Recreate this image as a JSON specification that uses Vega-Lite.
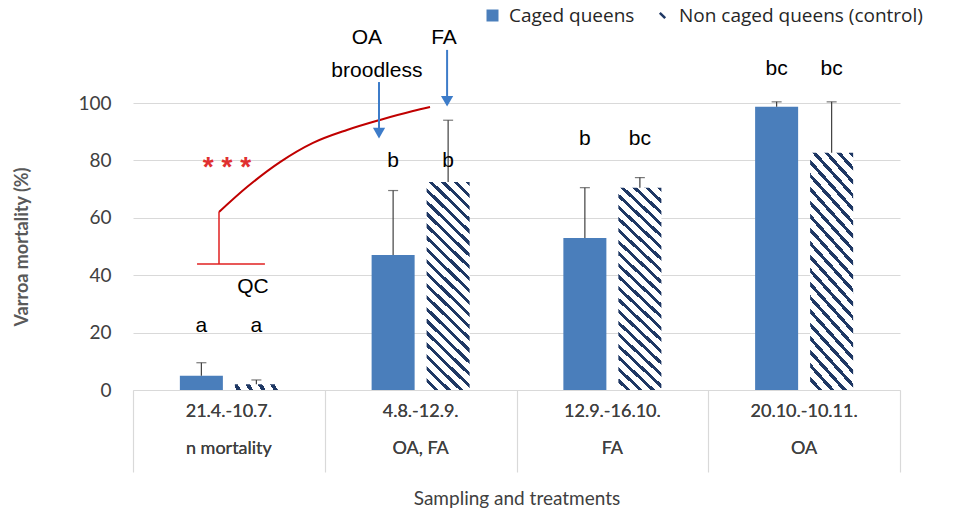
{
  "$schema": "https://vega.github.io/schema/vega-lite/v6.json",
  "autosize": {"type": "none"},
  "width": 767,
  "height": 287,
  "padding": {"left": 133, "top": 103, "right": 58, "bottom": 130},
  "background": "white",
  "config": {
    "view": {"stroke": null},
    "font": "Lato",
    "axis": {"labelFont": "Lato", "titleFont": "Lato"},
    "legend": {"labelFont": "Open Sans", "labelFontSize": 19, "labelColor": "#262626", "labelLimit": 500, "labelOffset": 7}
  },
  "datasets": {
    "bars": [
      {"period": "21.4.-10.7.", "treatment": "n mortality", "series": "Caged queens", "mortality": 5, "err_hi": 9.5, "letter": "a", "letter_y": 20.3},
      {"period": "21.4.-10.7.", "treatment": "n mortality", "series": "Non caged queens (control)", "mortality": 2, "err_hi": 3.5, "letter": "a", "letter_y": 20.3},
      {"period": "4.8.-12.9.", "treatment": "OA, FA", "series": "Caged queens", "mortality": 47, "err_hi": 69.5, "letter": "b", "letter_y": 77.7},
      {"period": "4.8.-12.9.", "treatment": "OA, FA", "series": "Non caged queens (control)", "mortality": 72.5, "err_hi": 94, "letter": "b", "letter_y": 77.7},
      {"period": "12.9.-16.10.", "treatment": "FA", "series": "Caged queens", "mortality": 53, "err_hi": 70.5, "letter": "b", "letter_y": 85.4},
      {"period": "12.9.-16.10.", "treatment": "FA", "series": "Non caged queens (control)", "mortality": 70.5, "err_hi": 74, "letter": "bc", "letter_y": 85.4},
      {"period": "20.10.-10.11.", "treatment": "OA", "series": "Caged queens", "mortality": 98.7, "err_hi": 100.4, "letter": "bc", "letter_y": 109.8},
      {"period": "20.10.-10.11.", "treatment": "OA", "series": "Non caged queens (control)", "mortality": 82.7, "err_hi": 100.4, "letter": "bc", "letter_y": 109.8}
    ],
    "curve": [
      {"x": 0.4485, "y": 62.0},
      {"x": 0.5945, "y": 70.7},
      {"x": 0.7666, "y": 79.4},
      {"x": 0.9387, "y": 86.1},
      {"x": 1.116, "y": 90.6},
      {"x": 1.288, "y": 94.1},
      {"x": 1.46, "y": 97.2},
      {"x": 1.549, "y": 98.6}
    ],
    "redrules": [
      {"x": 0.4485, "x2": 0.4485, "y": 62.0, "y2": 43.9},
      {"x": 0.334, "x2": 0.688, "y": 43.9, "y2": 43.9}
    ],
    "arrows": [
      {"name": "OA broodless", "x": 1.283, "y": 107.3, "y2": 89.0, "tip": 89.5},
      {"name": "FA", "x": 1.638, "y": 118.5, "y2": 100.0, "tip": 100.6}
    ],
    "notes": [
      {"text": "OA", "x": 1.22, "y": 120.6},
      {"text": "broodless", "x": 1.272, "y": 108.9},
      {"text": "FA", "x": 1.622, "y": 120.6},
      {"text": "QC", "x": 0.626, "y": 33.8}
    ],
    "stars": [
      {"text": "* * *", "x": 0.49, "y": 77.5}
    ],
    "frame": [{"x": 0}, {"x": 4}]
  },
  "resolve": {"scale": {"x": "independent"}},
  "layer": [
    {
      "data": {"name": "bars"},
      "encoding": {
        "x": {"field": "period", "type": "nominal", "sort": null, "axis": null,
              "scale": {"paddingInner": 0, "paddingOuter": 0}}
      },
      "layer": [
        {
          "transform": [{"filter": "datum.series === 'Caged queens'"}],
          "mark": {"type": "bar", "stroke": null},
          "encoding": {
            "xOffset": {"field": "series", "type": "nominal",
                        "scale": {"domain": ["Caged queens", "Non caged queens (control)"], "paddingInner": 0.218, "paddingOuter": 0.852}},
            "y": {"field": "mortality", "type": "quantitative", "title": "Varroa mortality (%)",
                  "scale": {"domain": [0, 100]},
                  "axis": {"values": [0, 20, 40, 60, 80, 100], "domain": false, "ticks": false,
                           "gridColor": "#d9d9d9", "gridWidth": 1.2,
                           "labelFontSize": 19, "labelColor": "#404040", "labelPadding": 22,
                           "titleFontSize": 18, "titleFontWeight": "bold", "titleColor": "#595959",
                           "titlePadding": 46}},
            "color": {"field": "series", "type": "nominal",
                      "scale": {"domain": ["Caged queens"], "range": ["#4a7ebb"]},
                      "legend": {"title": null, "orient": "none", "direction": "horizontal",
                                 "legendX": 350, "legendY": -97, "symbolSize": 144, "symbolType": "square"}}
          }
        },
        {
          "transform": [{"filter": "datum.series !== 'Caged queens'"}],
          "mark": {"type": "point", "opacity": 0, "color": "#1f3864", "strokeWidth": 2.5},
          "encoding": {
            "xOffset": {"field": "series", "type": "nominal",
                        "scale": {"domain": ["Caged queens", "Non caged queens (control)"], "paddingInner": 0.218, "paddingOuter": 0.852}},
            "y": {"field": "mortality", "type": "quantitative", "scale": {"domain": [0, 100]}},
            "shape": {"field": "series", "type": "nominal",
                      "scale": {"domain": ["Non caged queens (control)"], "range": ["M-0.45,-0.45L0.45,0.45"]},
                      "legend": {"title": null, "orient": "none", "direction": "horizontal",
                                 "legendX": 520, "legendY": -97, "symbolSize": 144, "symbolOpacity": 1,
                                 "symbolStrokeColor": "#1f3864", "symbolStrokeWidth": 2.5, "symbolFillColor": "transparent"}}
          }
        },
        {
          "transform": [{"filter": "datum.series !== 'Caged queens'"}],
          "mark": {"type": "bar", "stroke": null,
                   "fill": {"gradient": "linear", "x1": 1, "y1": 0, "x2": 0.7692, "y2": 1.1538,
                                  "stops": [
                                    {"offset": 0, "color": "#1f3864"}, {"offset": 0.017143, "color": "#1f3864"}, {"offset": 0.017143, "color": "#ffffff"}, {"offset": 0.047619, "color": "#ffffff"},
                                    {"offset": 0.047619, "color": "#1f3864"}, {"offset": 0.064762, "color": "#1f3864"}, {"offset": 0.064762, "color": "#ffffff"}, {"offset": 0.095238, "color": "#ffffff"},
                                    {"offset": 0.095238, "color": "#1f3864"}, {"offset": 0.112381, "color": "#1f3864"}, {"offset": 0.112381, "color": "#ffffff"}, {"offset": 0.142857, "color": "#ffffff"},
                                    {"offset": 0.142857, "color": "#1f3864"}, {"offset": 0.16, "color": "#1f3864"}, {"offset": 0.16, "color": "#ffffff"}, {"offset": 0.190476, "color": "#ffffff"},
                                    {"offset": 0.190476, "color": "#1f3864"}, {"offset": 0.207619, "color": "#1f3864"}, {"offset": 0.207619, "color": "#ffffff"}, {"offset": 0.238095, "color": "#ffffff"},
                                    {"offset": 0.238095, "color": "#1f3864"}, {"offset": 0.255238, "color": "#1f3864"}, {"offset": 0.255238, "color": "#ffffff"}, {"offset": 0.285714, "color": "#ffffff"},
                                    {"offset": 0.285714, "color": "#1f3864"}, {"offset": 0.302857, "color": "#1f3864"}, {"offset": 0.302857, "color": "#ffffff"}, {"offset": 0.333333, "color": "#ffffff"},
                                    {"offset": 0.333333, "color": "#1f3864"}, {"offset": 0.350476, "color": "#1f3864"}, {"offset": 0.350476, "color": "#ffffff"}, {"offset": 0.380952, "color": "#ffffff"},
                                    {"offset": 0.380952, "color": "#1f3864"}, {"offset": 0.398095, "color": "#1f3864"}, {"offset": 0.398095, "color": "#ffffff"}, {"offset": 0.428571, "color": "#ffffff"},
                                    {"offset": 0.428571, "color": "#1f3864"}, {"offset": 0.445714, "color": "#1f3864"}, {"offset": 0.445714, "color": "#ffffff"}, {"offset": 0.47619, "color": "#ffffff"},
                                    {"offset": 0.47619, "color": "#1f3864"}, {"offset": 0.493333, "color": "#1f3864"}, {"offset": 0.493333, "color": "#ffffff"}, {"offset": 0.52381, "color": "#ffffff"},
                                    {"offset": 0.52381, "color": "#1f3864"}, {"offset": 0.540952, "color": "#1f3864"}, {"offset": 0.540952, "color": "#ffffff"}, {"offset": 0.571429, "color": "#ffffff"},
                                    {"offset": 0.571429, "color": "#1f3864"}, {"offset": 0.588571, "color": "#1f3864"}, {"offset": 0.588571, "color": "#ffffff"}, {"offset": 0.619048, "color": "#ffffff"},
                                    {"offset": 0.619048, "color": "#1f3864"}, {"offset": 0.63619, "color": "#1f3864"}, {"offset": 0.63619, "color": "#ffffff"}, {"offset": 0.666667, "color": "#ffffff"},
                                    {"offset": 0.666667, "color": "#1f3864"}, {"offset": 0.68381, "color": "#1f3864"}, {"offset": 0.68381, "color": "#ffffff"}, {"offset": 0.714286, "color": "#ffffff"},
                                    {"offset": 0.714286, "color": "#1f3864"}, {"offset": 0.731429, "color": "#1f3864"}, {"offset": 0.731429, "color": "#ffffff"}, {"offset": 0.761905, "color": "#ffffff"},
                                    {"offset": 0.761905, "color": "#1f3864"}, {"offset": 0.779048, "color": "#1f3864"}, {"offset": 0.779048, "color": "#ffffff"}, {"offset": 0.809524, "color": "#ffffff"},
                                    {"offset": 0.809524, "color": "#1f3864"}, {"offset": 0.826667, "color": "#1f3864"}, {"offset": 0.826667, "color": "#ffffff"}, {"offset": 0.857143, "color": "#ffffff"},
                                    {"offset": 0.857143, "color": "#1f3864"}, {"offset": 0.874286, "color": "#1f3864"}, {"offset": 0.874286, "color": "#ffffff"}, {"offset": 0.904762, "color": "#ffffff"},
                                    {"offset": 0.904762, "color": "#1f3864"}, {"offset": 0.921905, "color": "#1f3864"}, {"offset": 0.921905, "color": "#ffffff"}, {"offset": 0.952381, "color": "#ffffff"},
                                    {"offset": 0.952381, "color": "#1f3864"}, {"offset": 0.969524, "color": "#1f3864"}, {"offset": 0.969524, "color": "#ffffff"}, {"offset": 1, "color": "#ffffff"}
                                  ]}},
          "encoding": {
            "xOffset": {"field": "series", "type": "nominal",
                        "scale": {"domain": ["Caged queens", "Non caged queens (control)"], "paddingInner": 0.218, "paddingOuter": 0.852}},
            "y": {"field": "mortality", "type": "quantitative", "scale": {"domain": [0, 100]}}
          }
        },
        {
          "mark": {"type": "rule", "color": "#404040", "strokeWidth": 1.2},
          "encoding": {
            "xOffset": {"field": "series", "type": "nominal",
                        "scale": {"domain": ["Caged queens", "Non caged queens (control)"], "paddingInner": 0.218, "paddingOuter": 0.852}},
            "y": {"field": "mortality", "type": "quantitative", "scale": {"domain": [0, 100]}},
            "y2": {"field": "err_hi"}
          }
        },
        {
          "mark": {"type": "tick", "color": "#404040", "thickness": 1.2, "size": 10, "orient": "horizontal"},
          "encoding": {
            "xOffset": {"field": "series", "type": "nominal",
                        "scale": {"domain": ["Caged queens", "Non caged queens (control)"], "paddingInner": 0.218, "paddingOuter": 0.852}},
            "y": {"field": "err_hi", "type": "quantitative", "scale": {"domain": [0, 100]}}
          }
        },
        {
          "mark": {"type": "text", "font": "Liberation Sans", "fontSize": 21, "color": "#000000", "baseline": "alphabetic"},
          "encoding": {
            "xOffset": {"field": "series", "type": "nominal",
                        "scale": {"domain": ["Caged queens", "Non caged queens (control)"], "paddingInner": 0.218, "paddingOuter": 0.852}},
            "y": {"field": "letter_y", "type": "quantitative", "scale": {"domain": [0, 100]}},
            "text": {"field": "letter"}
          }
        },
        {
          "mark": {"type": "text", "font": "Lato", "fontSize": 18, "color": "#404040", "baseline": "middle", "align": "center"},
          "encoding": {
            "y": {"datum": -7.5, "type": "quantitative", "scale": {"domain": [0, 100]}},
            "text": {"field": "period"}
          }
        },
        {
          "mark": {"type": "text", "font": "Lato", "fontSize": 18, "color": "#404040", "baseline": "middle", "align": "center"},
          "encoding": {
            "y": {"datum": -20.5, "type": "quantitative", "scale": {"domain": [0, 100]}},
            "text": {"field": "treatment"}
          }
        }
      ]
    },
    {
      "layer": [
        {
          "data": {"name": "frame"},
          "mark": {"type": "rule", "opacity": 0},
          "encoding": {
            "x": {"field": "x", "type": "quantitative", "scale": {"domain": [0, 4], "nice": false},
                  "axis": {"values": [0, 1, 2, 3, 4], "labels": false, "tickSize": 82, "tickColor": "#d9d9d9", "tickWidth": 1.2,
                           "domainColor": "#d9d9d9", "domainWidth": 1.2, "grid": false,
                           "title": "Sampling and treatments", "titleFontSize": 19, "titleFontWeight": "normal",
                           "titleColor": "#404040", "titlePadding": 17}},
            "y": {"datum": 0, "type": "quantitative", "scale": {"domain": [0, 100]}}
          }
        },
        {
          "data": {"name": "curve"},
          "mark": {"type": "line", "color": "#c00000", "strokeWidth": 2, "interpolate": "monotone"},
          "encoding": {
            "x": {"field": "x", "type": "quantitative", "scale": {"domain": [0, 4], "nice": false}},
            "y": {"field": "y", "type": "quantitative", "scale": {"domain": [0, 100]}}
          }
        },
        {
          "data": {"name": "redrules"},
          "mark": {"type": "rule", "color": "#e02020", "strokeWidth": 1.5},
          "encoding": {
            "x": {"field": "x", "type": "quantitative", "scale": {"domain": [0, 4], "nice": false}},
            "x2": {"field": "x2"},
            "y": {"field": "y", "type": "quantitative", "scale": {"domain": [0, 100]}},
            "y2": {"field": "y2"}
          }
        },
        {
          "data": {"name": "arrows"},
          "mark": {"type": "rule", "color": "#3d7cc9", "strokeWidth": 2},
          "encoding": {
            "x": {"field": "x", "type": "quantitative", "scale": {"domain": [0, 4], "nice": false}},
            "y": {"field": "y", "type": "quantitative", "scale": {"domain": [0, 100]}},
            "y2": {"field": "y2"}
          }
        },
        {
          "data": {"name": "arrows"},
          "mark": {"type": "point", "shape": "triangle-down", "filled": true, "color": "#3d7cc9", "size": 150, "opacity": 1},
          "encoding": {
            "x": {"field": "x", "type": "quantitative", "scale": {"domain": [0, 4], "nice": false}},
            "y": {"field": "tip", "type": "quantitative", "scale": {"domain": [0, 100]}}
          }
        },
        {
          "data": {"name": "notes"},
          "mark": {"type": "text", "font": "Liberation Sans", "fontSize": 21, "baseline": "alphabetic", "color": "#000000"},
          "encoding": {
            "x": {"field": "x", "type": "quantitative", "scale": {"domain": [0, 4], "nice": false}},
            "y": {"field": "y", "type": "quantitative", "scale": {"domain": [0, 100]}},
            "text": {"field": "text"}
          }
        },
        {
          "data": {"name": "stars"},
          "mark": {"type": "text", "font": "Liberation Sans", "fontSize": 28, "fontWeight": "bold", "baseline": "middle", "color": "#e03030"},
          "encoding": {
            "x": {"field": "x", "type": "quantitative", "scale": {"domain": [0, 4], "nice": false}},
            "y": {"field": "y", "type": "quantitative", "scale": {"domain": [0, 100]}},
            "text": {"field": "text"}
          }
        }
      ]
    }
  ]
}
